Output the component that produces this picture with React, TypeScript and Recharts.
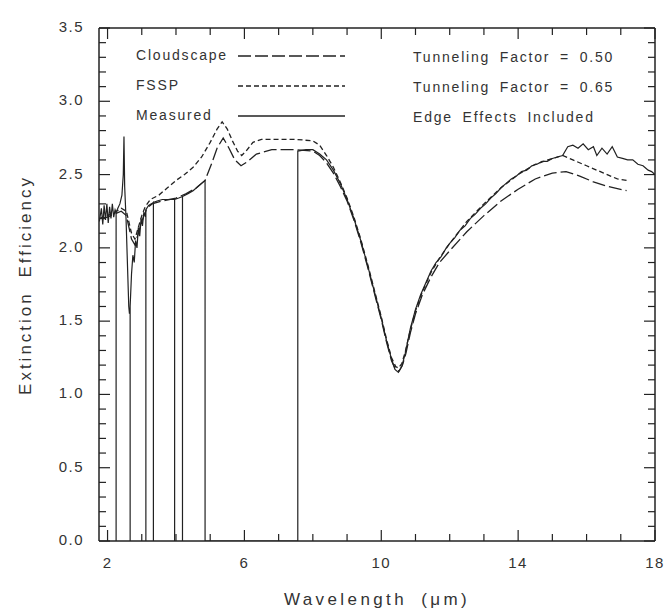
import React from 'react';
import { LineChart, Line, XAxis, YAxis, Customized } from 'recharts';

// ---------- data ----------
const measuredX = [
  1.76, 1.82, 1.86, 1.9, 1.94, 1.98, 2.02, 2.06, 2.1, 2.14, 2.18, 2.22, 2.25, 2.25, 2.25,
  2.3, 2.36, 2.42, 2.46, 2.48, 2.5, 2.54, 2.58, 2.62, 2.64, 2.66, 2.66, 2.66,
  2.7, 2.74, 2.78, 2.82, 2.86, 2.9, 2.94, 2.98, 3.02, 3.06, 3.1, 3.12, 3.12, 3.12,
  3.2, 3.28, 3.34, 3.34, 3.34, 3.45, 3.6, 3.75, 3.9, 3.96, 3.96, 3.96,
  4.08, 4.19, 4.19, 4.19, 4.35, 4.5, 4.65, 4.8, 4.85, 4.85, 7.56, 7.56,
  7.8, 8.0, 8.2, 8.4, 8.6, 8.8, 9.0, 9.2, 9.4, 9.6, 9.8, 10.0, 10.15, 10.3, 10.4, 10.5,
  10.6, 10.7, 10.85, 11.0, 11.15, 11.3, 11.45, 11.6, 11.75, 11.9, 12.0, 12.15, 12.3,
  12.45, 12.6, 12.75, 12.9, 13.05, 13.2, 13.35, 13.5, 13.65, 13.8, 13.95, 14.1, 14.25,
  14.4, 14.55, 14.7, 14.85, 15.0, 15.15, 15.3, 15.45, 15.6, 15.75, 15.9, 16.05, 16.2,
  16.3, 16.45, 16.6, 16.75, 16.9, 17.05, 17.2, 17.35, 17.5, 17.65, 17.8, 17.9, 18.0,
];
const measuredY = [
  2.18, 2.27, 2.16, 2.29, 2.19, 2.3, 2.17, 2.28, 2.2, 2.3, 2.21, 2.26, 2.24, 0, 2.24,
  2.27, 2.3, 2.36, 2.5, 2.76, 2.42, 2.2, 1.9, 1.6, 1.55, 1.58, 0, 1.6,
  1.82, 1.95, 1.9, 2.05, 2.0, 2.14, 2.08, 2.2, 2.15, 2.24, 2.22, 2.26, 0, 2.26,
  2.29, 2.3, 2.31, 0, 2.31, 2.32, 2.33, 2.33, 2.33, 2.33, 0, 2.33,
  2.34, 2.35, 0, 2.35, 2.37, 2.39, 2.42, 2.45, 2.46, 0, 0, 2.66,
  2.67, 2.67, 2.64, 2.6, 2.53, 2.44, 2.33, 2.2, 2.05, 1.88, 1.7, 1.52, 1.37, 1.24, 1.17, 1.15,
  1.19, 1.28, 1.45, 1.58, 1.68, 1.76, 1.84, 1.9, 1.94, 2.0, 2.03, 2.07, 2.12,
  2.15, 2.2, 2.23, 2.27, 2.3, 2.34, 2.37, 2.41, 2.44, 2.47, 2.49, 2.52, 2.53,
  2.56, 2.57, 2.59, 2.59, 2.61, 2.62, 2.63, 2.69, 2.7, 2.68, 2.71, 2.67, 2.69,
  2.63, 2.68, 2.64, 2.69, 2.62, 2.61, 2.6, 2.6, 2.57, 2.56, 2.53, 2.52, 2.5,
];

const fsspX = [
  1.76, 2.0, 2.2, 2.4, 2.55, 2.7, 2.8, 2.9, 3.0, 3.1, 3.25, 3.5, 3.75, 4.0, 4.25, 4.5,
  4.75, 5.0, 5.2, 5.35, 5.5, 5.65, 5.8, 5.92, 6.05, 6.25, 6.5, 7.0, 7.5, 8.0, 8.2, 8.4,
  8.6, 8.8, 9.0, 9.2, 9.4, 9.6, 9.8, 10.0, 10.15, 10.3, 10.42, 10.5, 10.6, 10.7, 10.85,
  11.0, 11.2, 11.45, 11.7, 12.0, 12.5, 13.0, 13.5, 14.0, 14.5, 15.0, 15.3, 15.6, 16.0,
  16.5, 16.9, 17.17,
];
const fsspY = [
  2.2, 2.22, 2.24, 2.27, 2.25, 2.1, 2.06, 2.14, 2.22, 2.28, 2.33, 2.36, 2.41, 2.46, 2.5, 2.55,
  2.62, 2.72, 2.81, 2.86, 2.81, 2.73, 2.66, 2.63, 2.66, 2.72, 2.74, 2.74, 2.74, 2.73, 2.7, 2.63,
  2.55, 2.45, 2.34, 2.21, 2.06, 1.89, 1.71, 1.53, 1.38, 1.25, 1.19, 1.18, 1.21, 1.29, 1.44,
  1.57, 1.7, 1.83, 1.93, 2.03, 2.18, 2.3, 2.41, 2.5, 2.57, 2.61, 2.63, 2.6, 2.56,
  2.51, 2.47, 2.46,
];

const cloudscapeX = [
  1.76, 2.0, 2.2, 2.4, 2.55, 2.7, 2.8, 2.9, 3.0, 3.15, 3.3, 3.6, 4.0, 4.3, 4.6, 4.85,
  5.05, 5.2, 5.38, 5.55, 5.72, 5.9, 6.1, 6.35, 6.8, 7.5, 8.0, 8.2, 8.4, 8.6, 8.8, 9.0,
  9.2, 9.4, 9.6, 9.8, 10.0, 10.15, 10.3, 10.42, 10.52, 10.62, 10.72, 10.85, 11.0, 11.2,
  11.45, 11.7, 12.0, 12.5, 13.0, 13.5, 14.0, 14.5, 15.0, 15.4, 15.8, 16.2, 16.6, 17.17,
];
const cloudscapeY = [
  2.2, 2.21, 2.23, 2.25, 2.22, 2.06, 2.02, 2.1, 2.18, 2.27, 2.3, 2.32, 2.34, 2.37, 2.41, 2.46,
  2.58, 2.68, 2.75, 2.68, 2.6, 2.56, 2.59, 2.64, 2.67, 2.67, 2.66, 2.63, 2.58, 2.51, 2.42, 2.32,
  2.19, 2.04, 1.87, 1.69, 1.51, 1.36, 1.23, 1.17, 1.16, 1.2, 1.28, 1.42, 1.55, 1.68,
  1.8, 1.9, 1.98, 2.11, 2.22, 2.32, 2.4, 2.47, 2.51, 2.52, 2.49, 2.45, 2.42, 2.39,
];

const xTicks = [2, 3, 4, 5, 6, 7, 8, 9, 10, 11, 12, 13, 14, 15, 16, 17, 18];
const xLabelTicks = [2, 6, 10, 14, 18];
const yTicks = Array.from({ length: 36 }, (_, i) => i / 10);
const yLabelTicks = [0, 0.5, 1.0, 1.5, 2.0, 2.5, 3.0, 3.5];

const legendLeft = ['Cloudscape', 'FSSP', 'Measured'];
const legendRight = ['Tunneling Factor = 0.50', 'Tunneling Factor = 0.65', 'Edge Effects Included'];
const xTitle = 'Wavelength (μm)';
const yTitle = 'Extinction Efficiency';

const toPoints = (xs: number[], ys: number[]) => xs.map((x, i) => ({ x, y: ys[i] }));
const measuredData = toPoints(measuredX, measuredY);
const fsspData = toPoints(fsspX, fsspY);
const cloudscapeData = toPoints(cloudscapeX, cloudscapeY);

// ---------- styles ----------
const INK = '#222';
const TEXT = '#333';
const FONT = '"Liberation Sans", Arial, sans-serif';
const DASH_CLOUD = '13 4';
const DASH_FSSP = '5 3';

const isLabelY = (v: number) => yLabelTicks.some((t) => Math.abs(t - v) < 1e-6);

const XTickBottom = (props: any) => {
  const { x, y, payload } = props;
  const v = payload.value;
  const major = xLabelTicks.includes(v);
  return (
    <g>
      <line x1={x} y1={y} x2={x} y2={y - (major ? 11 : 7)} stroke={INK} strokeWidth={1.2} />
      {major && (
        <text x={x} y={y + 23} textAnchor="middle" dominantBaseline="middle" fill={TEXT}
          style={{ fontFamily: FONT, fontSize: 15, letterSpacing: 1.5 }}>
          {v}
        </text>
      )}
    </g>
  );
};

const XTickTop = (props: any) => {
  const { x, y, payload } = props;
  const major = xLabelTicks.includes(payload.value);
  return <line x1={x} y1={y} x2={x} y2={y + (major ? 11 : 7)} stroke={INK} strokeWidth={1.2} />;
};

const YTickLeft = (props: any) => {
  const { x, y, payload } = props;
  const v = payload.value;
  const major = isLabelY(v);
  return (
    <g>
      <line x1={x} y1={y} x2={x + (major ? 11 : 7)} y2={y} stroke={INK} strokeWidth={1.2} />
      {major && (
        <text x={x - 15} y={y} textAnchor="end" dominantBaseline="middle" fill={TEXT}
          style={{ fontFamily: FONT, fontSize: 15, letterSpacing: 1.5 }}>
          {v.toFixed(1)}
        </text>
      )}
    </g>
  );
};

const YTickRight = (props: any) => {
  const { x, y, payload } = props;
  const major = isLabelY(payload.value);
  return <line x1={x} y1={y} x2={x - (major ? 11 : 7)} y2={y} stroke={INK} strokeWidth={1.2} />;
};

const Overlay = () => {
  const txt = { fontFamily: FONT, fontSize: 14, letterSpacing: 1.8, wordSpacing: 4 } as React.CSSProperties;
  const dashes = [DASH_CLOUD, DASH_FSSP, undefined];
  const rowsL = [56, 86, 116];
  const rowsR = [58, 88, 118];
  return (
    <g>
      {legendLeft.map((t, i) => (
        <g key={t}>
          <text x={136} y={rowsL[i]} dominantBaseline="middle" fill={TEXT} style={txt}>{t}</text>
          <line x1={238} x2={345} y1={rowsL[i]} y2={rowsL[i]} stroke={INK} strokeWidth={1.3}
            strokeDasharray={dashes[i]} />
        </g>
      ))}
      {legendRight.map((t, i) => (
        <text key={t} x={413} y={rowsR[i]} dominantBaseline="middle" fill={TEXT} style={txt}>{t}</text>
      ))}
      <text x={377} y={601} textAnchor="middle" dominantBaseline="middle" fill={TEXT}
        style={{ fontFamily: FONT, fontSize: 17, letterSpacing: 3.4, wordSpacing: 6 }}>
        {xTitle}
      </text>
      <text x={27} y={285} transform="rotate(-90 27 285)" textAnchor="middle" dominantBaseline="middle"
        fill={TEXT} style={{ fontFamily: FONT, fontSize: 17, letterSpacing: 3, wordSpacing: 6 }}>
        {yTitle}
      </text>
    </g>
  );
};

export default function App() {
  return (
    <div style={{ position: 'absolute', left: 0, top: 0, width: 669, height: 615, background: '#fff' }}>
      <LineChart width={669} height={615} margin={{ top: 27, right: 13, bottom: 0, left: 0 }}>
        <XAxis xAxisId="b" dataKey="x" type="number" domain={[1.75, 18]} ticks={xTicks} interval={0}
          allowDataOverflow height={74} tickSize={0} tickMargin={0} tick={<XTickBottom />}
          axisLine={{ stroke: INK, strokeWidth: 1.5 }} />
        <XAxis xAxisId="t" orientation="top" dataKey="x" type="number" domain={[1.75, 18]} ticks={xTicks}
          interval={0} allowDataOverflow height={1} tickSize={0} tickMargin={0} tick={<XTickTop />}
          axisLine={{ stroke: INK, strokeWidth: 1.5 }} />
        <YAxis yAxisId="l" type="number" domain={[0, 3.5]} ticks={yTicks} interval={0} allowDataOverflow
          width={99} tickSize={0} tickMargin={0} tick={<YTickLeft />}
          axisLine={{ stroke: INK, strokeWidth: 1.5 }} />
        <YAxis yAxisId="r" orientation="right" type="number" domain={[0, 3.5]} ticks={yTicks} interval={0}
          allowDataOverflow width={1} tickSize={0} tickMargin={0} tick={<YTickRight />}
          axisLine={{ stroke: INK, strokeWidth: 1.5 }} />
        <Line xAxisId="b" yAxisId="l" data={cloudscapeData} dataKey="y" type="linear" stroke={INK}
          strokeWidth={1.3} strokeDasharray={DASH_CLOUD} dot={false} activeDot={false} isAnimationActive={false} />
        <Line xAxisId="b" yAxisId="l" data={fsspData} dataKey="y" type="linear" stroke={INK}
          strokeWidth={1.3} strokeDasharray={DASH_FSSP} dot={false} activeDot={false} isAnimationActive={false} />
        <Line xAxisId="b" yAxisId="l" data={measuredData} dataKey="y" type="linear" stroke={INK}
          strokeWidth={1.2} dot={false} activeDot={false} isAnimationActive={false} />
        <Customized component={Overlay} />
      </LineChart>
    </div>
  );
}
